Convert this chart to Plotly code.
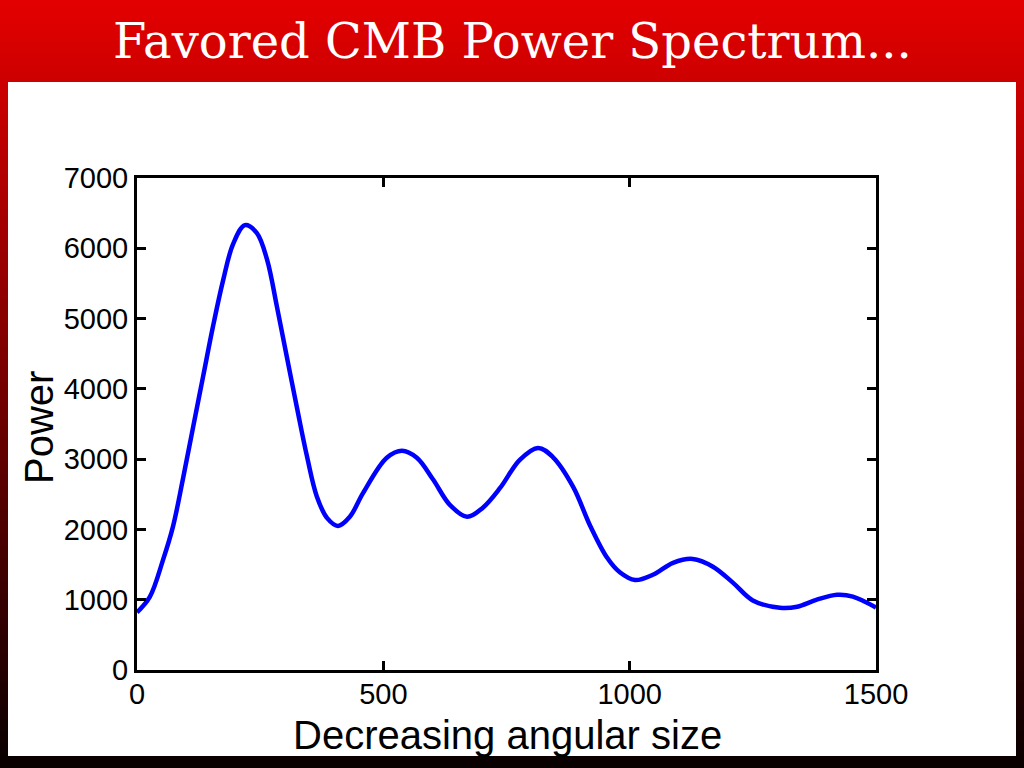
import plotly.graph_objects as go

# ---- data ----
multipole = [0, 26, 53, 73, 93, 114, 134, 154, 175, 195, 219, 243, 264, 284, 304,
             325, 345, 365, 386, 408, 432, 459, 507, 538, 568, 601, 635, 670,
             702, 737, 777, 814, 844, 885, 920, 954, 980, 1011, 1047, 1088, 1128,
             1169, 1210, 1250, 1305, 1340, 1380, 1421, 1453, 1500]
power = [820, 1040, 1570, 2040, 2710, 3460, 4170, 4880, 5550, 6060, 6330, 6220,
         5840, 5170, 4460, 3720, 3040, 2470, 2160, 2050, 2180, 2520, 3020,
         3120, 3020, 2710, 2350, 2180, 2310, 2590, 2990, 3160, 3030, 2610, 2050,
         1600, 1390, 1280, 1355, 1525, 1580, 1470, 1240, 990, 885, 900, 1000,
         1070, 1045, 890]

x_tickvals = [0, 500, 1000, 1500]
x_ticktext = ["0", "500", "1000", "1500"]
y_tickvals = [0, 1000, 2000, 3000, 4000, 5000, 6000, 7000]
y_ticktext = ["0", "1000", "2000", "3000", "4000", "5000", "6000", "7000"]

title_text = "Favored CMB Power Spectrum..."
x_title = "Decreasing angular size"
y_title = "Power"

# ---- layout geometry (pixels) ----
W, H = 1024, 768
L, R, T, B = 137, 876, 178, 670


def px_x(p):
    return (p - L) / (R - L)


def px_y(p):
    return (B - p) / (B - T)


shapes = []
# red-to-black vertical gradient background
n = 128
for i in range(n):
    y0 = i * H / n
    y1 = (i + 1) * H / n
    f = (y0 + y1) / 2 / H
    r = int(round(228 * (1 - f) + 8 * f))
    shapes.append(dict(type="rect", xref="paper", yref="paper",
                       x0=px_x(-5), x1=px_x(W + 5), y0=px_y(y1 + 0.5), y1=px_y(y0 - 0.5),
                       fillcolor=f"rgb({r},0,0)", line=dict(width=0), layer="below"))
# white panel
shapes.append(dict(type="rect", xref="paper", yref="paper",
                   x0=px_x(8), x1=px_x(1016), y0=px_y(756), y1=px_y(82),
                   fillcolor="white", line=dict(width=0), layer="below"))

fig = go.Figure()
fig.add_trace(go.Scatter(x=multipole, y=power, mode="lines",
                         line=dict(color="#0000ff", width=4.5, shape="spline", smoothing=1.0),
                         hoverinfo="skip", showlegend=False, cliponaxis=True))

axis_common = dict(showgrid=False, zeroline=False, showline=True, linecolor="black",
                   linewidth=3, mirror="allticks", ticks="inside", ticklen=9,
                   tickwidth=3, tickcolor="black",
                   tickfont=dict(family="Liberation Sans, Arial, sans-serif", size=29, color="black"))

fig.update_xaxes(range=[0, 1500], tickmode="array", tickvals=x_tickvals,
                 ticktext=x_ticktext, ticklabelstandoff=-4, **axis_common)
fig.update_yaxes(range=[0, 7000], tickmode="array", tickvals=y_tickvals,
                 ticktext=y_ticktext, ticklabelstandoff=0, **axis_common)

annotations = [
    dict(text=title_text, xref="paper", yref="paper", x=px_x(512), y=px_y(41),
         xanchor="center", yanchor="middle", showarrow=False,
         font=dict(family="DejaVu Serif, serif", size=48, color="white")),
    dict(text=x_title, xref="paper", yref="paper", x=px_x(507), y=px_y(735),
         xanchor="center", yanchor="middle", showarrow=False,
         font=dict(family="Liberation Sans, Arial, sans-serif", size=40, color="black")),
    dict(text=y_title, xref="paper", yref="paper", x=px_x(39), y=px_y(427),
         xanchor="center", yanchor="middle", showarrow=False, textangle=-90,
         font=dict(family="Liberation Sans, Arial, sans-serif", size=40, color="black")),
]

fig.update_layout(width=W, height=H, autosize=False,
                  margin=dict(l=L, r=W - R, t=T, b=H - B, pad=0),
                  paper_bgcolor="black", plot_bgcolor="white",
                  shapes=shapes, annotations=annotations, showlegend=False)

fig.write_html("out.html", config={"displayModeBar": False})
